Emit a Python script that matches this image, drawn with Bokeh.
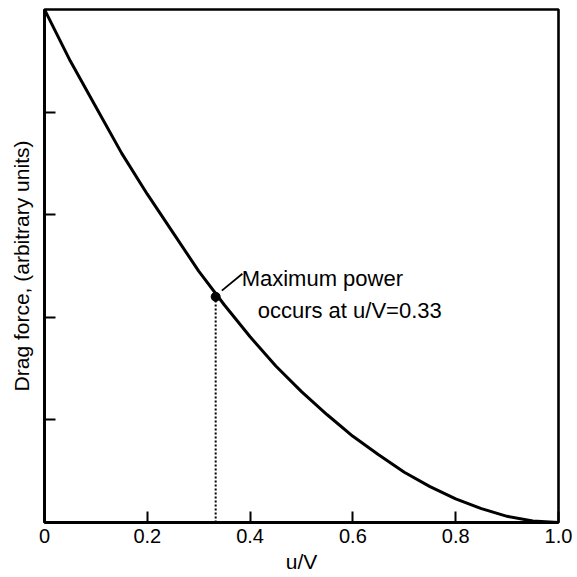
from bokeh.plotting import figure
from bokeh.models import Range1d, FixedTicker
from bokeh.core.properties import value
from bokeh.embed import file_html
from bokeh.resources import INLINE

# Data
u_over_v = [0.0, 0.05, 0.1, 0.15, 0.2, 0.25, 0.3, 0.35, 0.4, 0.45, 0.5,
            0.55, 0.6, 0.65, 0.7, 0.75, 0.8, 0.85, 0.9, 0.95, 1.0]
drag_force = [1.0, 0.90, 0.81, 0.72, 0.64, 0.565, 0.49, 0.424, 0.362, 0.305, 0.255,
              0.21, 0.168, 0.132, 0.098, 0.07, 0.046, 0.027, 0.012, 0.003, 0.0]
max_u = [0.333]
max_drag = [0.44]
x_ticks = [0.0, 0.2, 0.4, 0.6, 0.8, 1.0]
x_tick_labels = ["0", "0.2", "0.4", "0.6", "0.8", "1.0"]
y_ticks = [0.2, 0.4, 0.6, 0.8]
annot_lines = ["Maximum power", "occurs at u/V=0.33"]

FONT = "Liberation Sans"

p = figure(width=577, height=577, output_backend="svg", toolbar_location=None,
           x_range=Range1d(0, 1), y_range=Range1d(0, 1),
           min_border_left=44, min_border_right=19, min_border_top=9, min_border_bottom=55)
p.grid.visible = False
p.background_fill_color = "white"
p.border_fill_color = "white"
p.outline_line_color = "black"
p.outline_line_width = 2.6

# axes
p.xaxis.ticker = FixedTicker(ticks=x_ticks)
p.xaxis.major_label_overrides = {t: l for t, l in zip(x_ticks, x_tick_labels)}
p.yaxis.ticker = FixedTicker(ticks=y_ticks)
p.yaxis.major_label_overrides = {t: "" for t in y_ticks}
for ax in (p.xaxis[0], p.yaxis[0]):
    ax.axis_line_width = 2.8
    ax.axis_line_color = "black"
    ax.major_tick_in = 11
    ax.major_tick_out = 0
    ax.major_tick_line_width = 2
    ax.major_tick_line_color = "black"
    ax.minor_tick_line_color = None
    ax.major_label_text_font = FONT
    ax.major_label_text_font_size = "20px"
    ax.major_label_text_color = "black"
    ax.axis_label_text_font = FONT
    ax.axis_label_text_font_style = "normal"
    ax.axis_label_text_font_size = "21px"
    ax.axis_label_text_color = "black"
p.xaxis.axis_label = "u/V"
p.yaxis.axis_label = "Drag force, (arbitrary units)"
p.xaxis.major_label_standoff = 6
p.xaxis.axis_label_standoff = 4
p.yaxis.major_label_standoff = 0
p.yaxis.axis_label_standoff = 12

# curve
p.line(u_over_v, drag_force, line_color="black", line_width=3)

# dotted drop line
p.segment(x0=max_u, y0=[0.0], x1=max_u, y1=max_drag, line_color="black",
          line_width=2, line_dash="2 2")

# max point
p.scatter(max_u, max_drag, size=9, color="black")

# leader line
p.segment(x0=[max_u[0] + 0.012], y0=[max_drag[0] + 0.012],
          x1=[max_u[0] + 0.052], y1=[max_drag[0] + 0.045],
          line_color="black", line_width=1.8)

# annotation text
p.text(x=max_u, y=max_drag, text=[annot_lines[0]], x_offset=26, y_offset=-18,
       text_font=value(FONT), text_font_size="22px", text_color="black",
       text_baseline="alphabetic", text_align="left")
p.text(x=max_u, y=max_drag, text=[annot_lines[1]], x_offset=42, y_offset=14,
       text_font=value(FONT), text_font_size="22px", text_color="black",
       text_baseline="alphabetic", text_align="left")

open("out.html", "w").write(file_html(p, INLINE))
